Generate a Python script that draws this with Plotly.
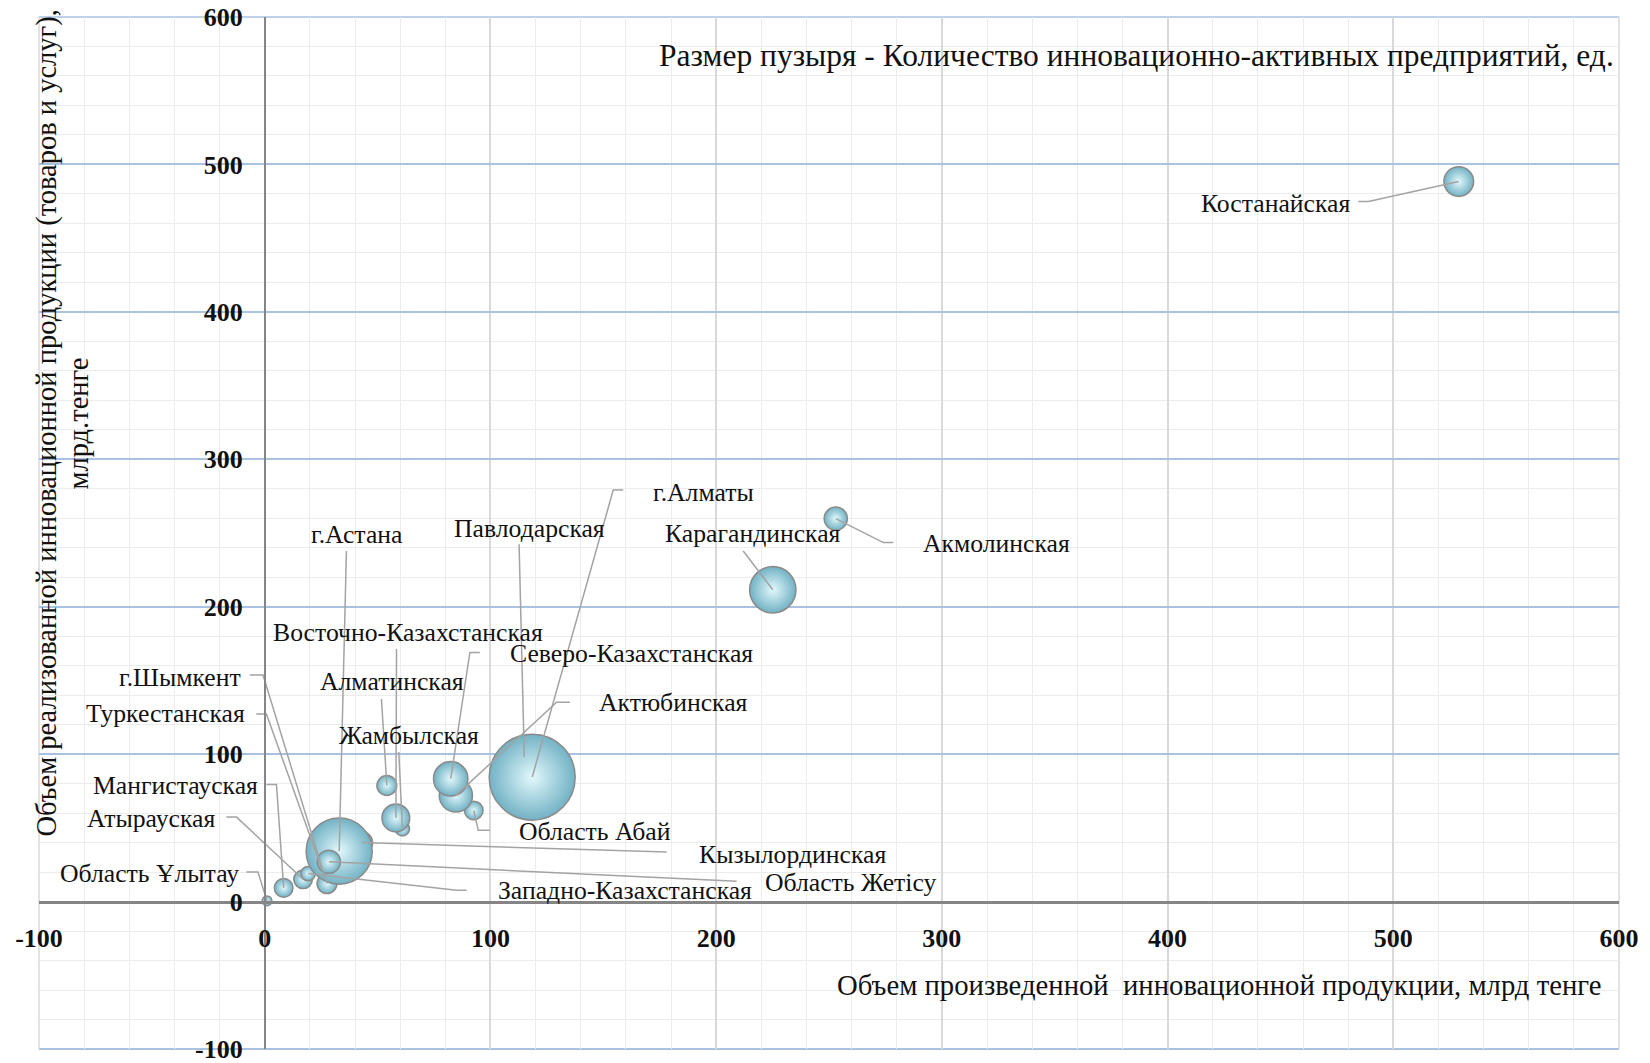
import plotly.graph_objects as go

# ---------------- data ----------------
regions = [
    "Область Ұлытау", "Мангистауская", "Атырауская", "Западно-Казахстанская",
    "Туркестанская", "г.Шымкент", "Кызылординская", "г.Астана", "Область Жетісу",
    "Жамбылская", "Восточно-Казахстанская", "Алматинская", "Область Абай",
    "Актюбинская", "Северо-Казахстанская", "Павлодарская", "г.Алматы",
    "Карагандинская", "Акмолинская", "Костанайская",
]
# Объем произведенной инновационной продукции, млрд тенге
produced = [1.0, 8.4, 17.0, 19.2, 27.6, 25.5, 43.0, 33.0, 28.4,
            61.0, 58.1, 54.1, 92.6, 84.7, 82.4, 115.0, 118.5,
            225.1, 253.0, 529.0]
# Объем реализованной инновационной продукции, млрд тенге
sold = [0.5, 9.3, 15.1, 19.0, 12.2, 22.5, 40.0, 34.2, 27.0,
        49.4, 56.7, 78.7, 61.8, 72.0, 83.3, 98.0, 84.4,
        211.5, 259.8, 488.4]
# Количество инновационно-активных предприятий, ед.
enterprises = [6, 22, 22, 13, 25, 20, 30, 277, 34,
               13, 49, 25, 22, 70, 75, 60, 469,
               136, 34, 56]

x_tick_values = [-100, 0, 100, 200, 300, 400, 500, 600]
x_tick_labels = ["-100", "0", "100", "200", "300", "400", "500", "600"]
y_tick_values = [-100, 0, 100, 200, 300, 400, 500, 600]
y_tick_labels = ["-100", "0", "100", "200", "300", "400", "500", "600"]

chart_note = "Размер пузыря - Количество инновационно-активных предприятий, ед."
x_title = "Объем произведенной \u00a0инновационной продукции, млрд тенге"
y_title_lines = ["Объем реализованной инновационной продукции (товаров и услуг),",
                 "млрд.тенге"]

# ---------------- label placement (layout only) ----------------
label_layout = {
    "Костанайская": ((447.9, 473.6), [(484.5, 474.8), (489.0, 474.8)]),
    "Акмолинская": ((324.0, 243.0), [(278.5, 243.5), (274.1, 243.5)]),
    "Карагандинская": ((216.4, 249.8), [(212.0, 237.8)]),
    "г.Алматы": ((194.5, 277.6), [(158.8, 279.1), (154.4, 279.1)]),
    "Павлодарская": ((117.5, 253.2), [(112.7, 242.4)]),
    "Северо-Казахстанская": ((162.4, 168.0), [(95.3, 169.0), (90.9, 169.0)]),
    "Актюбинская": ((180.9, 134.7), [(135.2, 135.2), (129.3, 135.2)]),
    "Область Абай": ((146.2, 47.7), [(99.7, 48.3), (94.6, 48.3)]),
    "Восточно-Казахстанская": ((63.3, 182.8), [(58.4, 171.3)]),
    "Алматинская": ((56.2, 149.0), [(51.7, 137.4)]),
    "Жамбылская": ((63.8, 112.6), [(59.4, 101.4)]),
    "г.Астана": ((40.8, 249.2), [(36.2, 237.8)]),
    "г.Шымкент": ((-37.7, 152.3), [(-6.6, 153.7), (-0.75, 153.7)]),
    "Туркестанская": ((-43.8, 127.3), [(-3.7, 127.3), (0.75, 127.3)]),
    "Мангистауская": ((-39.7, 78.7), [(0.75, 79.4), (5.2, 79.4)]),
    "Атырауская": ((-50.6, 56.2), [(-17.0, 57.3), (-12.5, 57.3)]),
    "Область Ұлытау": ((-51.0, 19.0), [(-8.1, 20.1), (-3.0, 20.1)]),
    "Кызылординская": ((233.7, 32.2), [(178.1, 33.6)]),
    "Область Жетісу": ((259.8, 12.9), [(209.1, 13.7)]),
    "Западно-Казахстанская": ((159.6, 7.2), [(89.4, 7.7), (85.0, 7.7)]),
}

SERIF = "Liberation Serif, Times New Roman, serif"
MAX_DIAMETER = 86
x_range = [x_tick_values[0], x_tick_values[-1]]
y_range = [y_tick_values[0], y_tick_values[-1]]
x_zero_frac = (0 - x_range[0]) / (x_range[1] - x_range[0])
y_zero_frac = (0 - y_range[0]) / (y_range[1] - y_range[0])

fig = go.Figure()

fig.add_trace(go.Scatter(
    x=produced, y=sold, mode="markers", text=regions,
    hovertemplate="%{text}<br>%{x}, %{y}<extra></extra>",
    marker=dict(
        size=enterprises, sizemode="area",
        sizeref=2.0 * max(enterprises) / (MAX_DIAMETER ** 2),
        color="#72b2c4",
        gradient=dict(type="radial", color="#e2f8fc"),
        line=dict(color="#8a8a8a", width=1.5),
        opacity=1,
    ),
    showlegend=False,
))

# leader lines
lx, ly = [], []
for name, px, py in zip(regions, produced, sold):
    (tx, ty), pts = label_layout[name]
    for (a, b) in pts:
        lx.append(a)
        ly.append(b)
    lx.append(px)
    ly.append(py)
    lx.append(None)
    ly.append(None)
fig.add_trace(go.Scatter(x=lx, y=ly, mode="lines",
                         line=dict(color="#a3a3a3", width=1.5),
                         hoverinfo="skip", showlegend=False))

annotations = []
for name in regions:
    (tx, ty), _ = label_layout[name]
    annotations.append(dict(x=tx, y=ty, xref="x", yref="y", text=name,
                            showarrow=False, xanchor="center", yanchor="middle",
                            font=dict(family=SERIF, size=25.7, color="#111111")))

annotations.append(dict(x=598.7, y=573.6, xref="x", yref="y", text=chart_note,
                        showarrow=False, xanchor="right", yanchor="middle",
                        font=dict(family=SERIF, size=31.5, color="#111111")))
annotations.append(dict(x=592.7, y=-56.9, xref="x", yref="y", text=x_title,
                        showarrow=False, xanchor="right", yanchor="middle",
                        font=dict(family=SERIF, size=28.7, color="#111111")))
for xp, line in zip([0.00507, 0.0253], y_title_lines):
    annotations.append(dict(x=xp, y=0.606, xref="paper", yref="paper", text=line,
                            showarrow=False, xanchor="center", yanchor="middle",
                            textangle=-90,
                            font=dict(family=SERIF, size=28.5, color="#111111")))

# plot-area frame: blue at top/bottom (like the major horizontal grid), grey at sides
frame = [
    dict(type="line", xref="paper", yref="paper", x0=0, x1=1, y0=1, y1=1,
         line=dict(color="#a9c2e0", width=1.5), layer="below"),
    dict(type="line", xref="paper", yref="paper", x0=0, x1=1, y0=0, y1=0,
         line=dict(color="#a9c2e0", width=2), layer="below"),
    dict(type="line", xref="paper", yref="paper", x0=0, x1=0, y0=0, y1=1,
         line=dict(color="#d9d9d9", width=1.5), layer="below"),
    dict(type="line", xref="paper", yref="paper", x0=1, x1=1, y0=0, y1=1,
         line=dict(color="#d9d9d9", width=1.5), layer="below"),
]

fig.update_layout(
    width=1650, height=1063,
    margin=dict(l=39, r=31, t=17, b=14),
    paper_bgcolor="white", plot_bgcolor="white",
    annotations=annotations, shapes=frame,
    xaxis=dict(
        range=x_range, tickvals=x_tick_values, ticktext=x_tick_labels,
        anchor="free", position=y_zero_frac, automargin=False,
        showline=True, linecolor="#858585", linewidth=2.5,
        showgrid=True, gridcolor="#d9d9d9", gridwidth=1.5,
        zeroline=False, ticks="", ticklabelstandoff=12,
        ticklabeloverflow="allow",
        tickfont=dict(family=SERIF, size=26, color="#111111", weight="bold"),
        minor=dict(dtick=20, showgrid=True, gridcolor="#ececec", gridwidth=1),
    ),
    yaxis=dict(
        range=y_range, tickvals=y_tick_values, ticktext=y_tick_labels,
        anchor="free", position=x_zero_frac, automargin=False,
        showline=True, linecolor="#858585", linewidth=1.5,
        showgrid=True, gridcolor="#a9c2e0", gridwidth=1.5,
        zeroline=False, ticks="", ticklabelstandoff=16,
        ticklabeloverflow="allow",
        tickfont=dict(family=SERIF, size=26, color="#111111", weight="bold"),
        minor=dict(dtick=20, showgrid=True, gridcolor="#ececec", gridwidth=1),
    ),
)

fig.write_html("out.html", config={"displayModeBar": False},
               post_script="document.body.style.margin='0';")
